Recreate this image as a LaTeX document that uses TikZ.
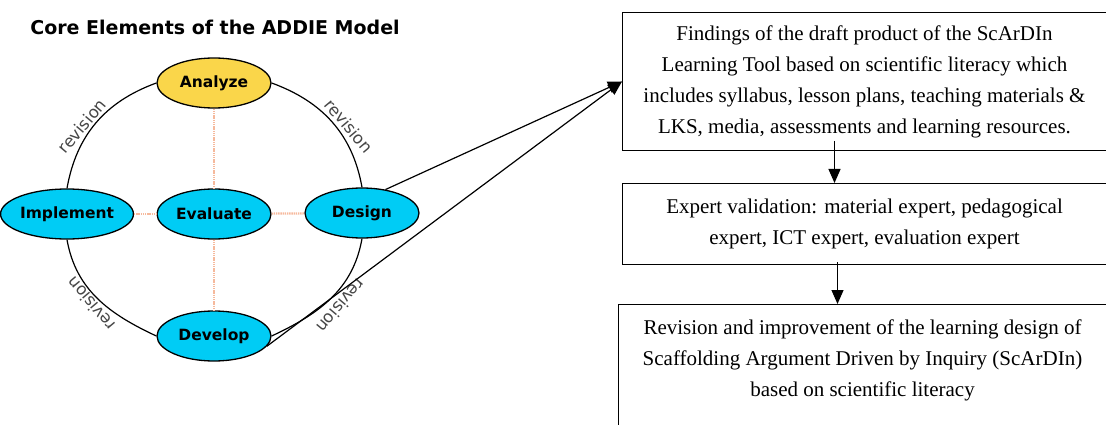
\documentclass[tikz,border=0pt]{standalone}
\usepackage{fontspec}
\setmainfont{Liberation Serif}
\newfontfamily\verd{DejaVu Sans}
\usetikzlibrary{shapes.geometric,arrows.meta}
\definecolor{phaseyellow}{HTML}{FAD64A}
\definecolor{phasecyan}{HTML}{00CCF5}
\definecolor{linksalmon}{HTML}{F6B99C}
\tikzset{
  phase/.style={ellipse,draw=black,line width=1.3pt,fill=phasecyan,minimum width=114pt,minimum height=50pt,inner sep=0pt,font=\verd\bfseries\fontsize{15.5}{17}\selectfont},
  ring/.style={line width=1.2pt},
  link/.style={linksalmon,line width=2.2pt,dash pattern=on 1.4pt off 0.8pt},
  rev/.style={font=\verd\fontsize{16.5}{17}\selectfont,text=black!72,inner sep=0pt},
  stepbox/.style={draw=black,line width=1pt,align=center,inner sep=0pt,font=\fontsize{21}{31}\selectfont,anchor=north west},
  flow/.style={line width=1.2pt,-{Triangle[width=12pt,length=14pt]}}
}
\begin{document}
\begin{tikzpicture}[x=1pt,y=1pt]
    \useasboundingbox (0,0) rectangle (1106,-425);
    \clip (0,0) rectangle (1106,-425);
    \node[font=\verd\bfseries\fontsize{19}{21}\selectfont] (title) at (215,-27) {Core Elements of the ADDIE Model};
    % the five phases
    \node[phase,fill=phaseyellow] (ana) at (214,-83) {Analyze};
    \node[phase] (eva) at (214,-214) {Evaluate};
    \node[phase] (imp) at (67,-214) {Implement};
    \node[phase] (des) at (362,-213) {Design};
    \node[phase] (dev) at (214,-336) {Develop};
    % evaluation links
    \draw[link] (ana) -- (eva);
    \draw[link] (eva) -- (dev);
    \draw[link] (imp) -- (eva);
    \draw[link] (eva) -- (des);
    % revision ring
    \draw[ring] (ana.west) to[out=200,in=80] (imp.north);
    \draw[ring] (ana.east) to[out=-20,in=100] (des.north);
    \draw[ring] (imp.south) to[out=-80,in=155] (dev.west);
    \draw[ring] (des.south) to[out=-100,in=25] (dev.east);
    \node[rev,rotate=50] (r1) at (82,-126) {revision};
    \node[rev,rotate=-50] (r2) at (349,-126) {revision};
    \node[rev,rotate=130] (r3) at (91,-304) {revision};
    \node[rev,rotate=230] (r4) at (341,-306) {revision};
    % development steps
    \node[stepbox,minimum width=484pt,minimum height=138pt] (find) at (622,-12)
      {Findings of the draft product of the ScArDIn\\
       Learning Tool based on scientific literacy which\\
       includes syllabus, lesson plans, teaching materials \&\\
       LKS, media, assessments and learning resources.};
    \node[stepbox,minimum width=484pt,minimum height=81pt] (val) at (622,-183)
      {Expert validation: material expert, pedagogical\\
       expert, ICT expert, evaluation expert};
    \node[stepbox,minimum width=488pt,minimum height=138pt] (rev) at (618,-304)
      {Revision and improvement of the learning design of\\
       Scaffolding Argument Driven by Inquiry (ScArDIn)\\
       based on scientific literacy\\ ~};
    \draw[flow] (des.45) -- (find.west);
    \draw[flow] (dev.-11) -- (find.west);
    \draw[flow] ([xshift=-30pt,yshift=10pt]find.south) -- ([xshift=-30pt]val.north);
    \draw[flow] ([xshift=-27pt,yshift=3pt]val.south) -- ([xshift=-27pt]val.south |- rev.north);
\end{tikzpicture}
\end{document}
